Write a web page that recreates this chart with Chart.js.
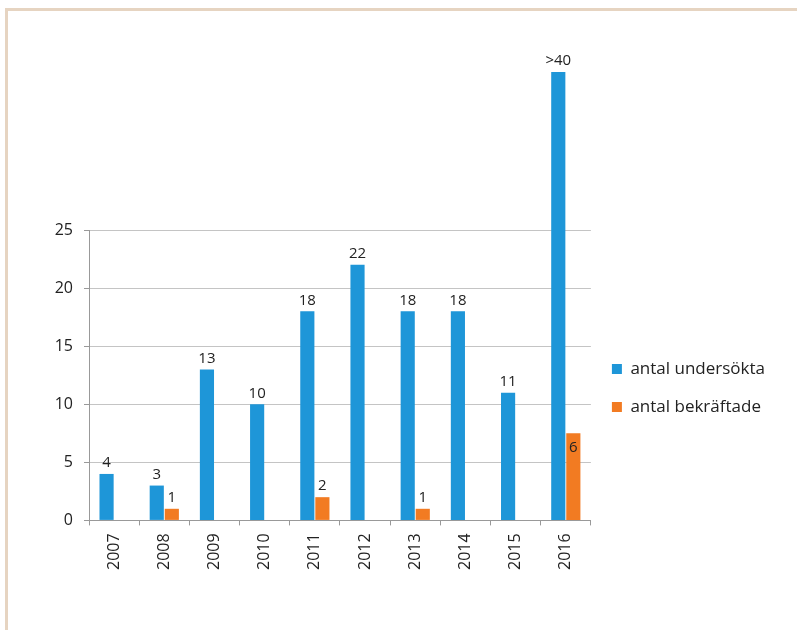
<!DOCTYPE html>
<html>
<head>
<meta charset="utf-8">
<script src="https://cdn.jsdelivr.net/npm/chart.js@4/dist/chart.umd.min.js"></script>
<style>
    body { margin: 0; background: #fff; }
    .frame {
        position: absolute;
        left: 5px;
        top: 8px;
        width: 800px;
        height: 630px;
        border-top: 3px solid #e6d4c1;
        border-left: 3px solid #e6d4c1;
    }
    #wrap { position: absolute; left: 0; top: 0; width: 797px; height: 630px; }
</style>
</head>
<body>
<div class="frame"></div>
<div id="wrap"><canvas id="chart"></canvas></div>
<script>
const years = ['2007', '2008', '2009', '2010', '2011', '2012', '2013', '2014', '2015', '2016'];

const examined = [4, 3, 13, 10, 18, 22, 18, 18, 11, 38.6];
const confirmed = [0, 1, 0, 0, 2, 0, 1, 0, 0, 7.5];

const examinedLabels = ['4', '3', '13', '10', '18', '22', '18', '18', '11', '>40'];
const confirmedLabels = ['', '1', '', '', '2', '', '1', '', '', '6'];

const yTicks = [0, 5, 10, 15, 20, 25];

const textFont = "'Open Sans', sans-serif";

// value labels above the bars, the last orange one sits inside its bar
const barLabels = {
    id: 'barLabels',
    afterDatasetsDraw(chart) {
        const ctx = chart.ctx;
        const labelSets = [examinedLabels, confirmedLabels];
        ctx.save();
        ctx.font = '15px ' + textFont;
        ctx.fillStyle = '#222';
        ctx.textAlign = 'center';
        ctx.textBaseline = 'middle';
        labelSets.forEach((labels, d) => {
            const meta = chart.getDatasetMeta(d);
            meta.data.forEach((bar, i) => {
                if (!labels[i]) return;
                const inside = d === 1 && i === labels.length - 1;
                ctx.fillText(labels[i], bar.x, inside ? bar.y + 14 : bar.y - 11);
            });
        });
        ctx.restore();
    }
};

// move the legend up next to the bars
const legendNudge = {
    id: 'legendNudge',
    afterLayout(chart) {
        const lg = chart.legend;
        lg.top -= 16;
        lg.bottom -= 16;
    }
};

const config = {
    type: 'bar',
    data: {
        labels: years,
        datasets: [{
            label: 'antal undersökta',
            backgroundColor: '#1e96d8',
            data: examined,
            clip: false,
            categoryPercentage: 0.6,
            barPercentage: 0.94
        },
        {
            label: 'antal bekräftade',
            backgroundColor: '#f27b22',
            data: confirmed,
            clip: false,
            categoryPercentage: 0.6,
            barPercentage: 0.94
        }]
    },
    options: {
        responsive: true,
        maintainAspectRatio: false,
        animation: false,
        layout: {
            padding: { top: 230, left: 20, right: 22, bottom: 52 }
        },
        plugins: {
            tooltip: { enabled: false },
            legend: {
                position: 'right',
                align: 'center',
                labels: {
                    boxWidth: 10,
                    boxHeight: 10,
                    padding: 21,
                    color: '#222',
                    font: { family: textFont, size: 17 }
                }
            }
        },
        scales: {
            x: {
                grid: {
                    offset: true,
                    drawOnChartArea: false,
                    drawTicks: true,
                    tickLength: 5,
                    color: '#999'
                },
                border: { color: '#999' },
                ticks: {
                    minRotation: 90,
                    maxRotation: 90,
                    padding: 8,
                    color: '#222',
                    font: { family: textFont, size: 16 }
                }
            },
            y: {
                min: 0,
                max: 25,
                afterFit(scale) { scale.width = 69; },
                afterBuildTicks(scale) {
                    scale.ticks = yTicks.map(v => ({ value: v }));
                },
                grid: {
                    color: '#c4c4c4',
                    tickLength: 5,
                    tickColor: '#999'
                },
                border: { color: '#999' },
                ticks: {
                    padding: 11,
                    color: '#222',
                    font: { family: textFont, size: 16 }
                }
            }
        }
    },
    plugins: [barLabels, legendNudge]
};

const chart = new Chart(
    document.getElementById('chart'),
    config
);
</script>
</body>
</html>
